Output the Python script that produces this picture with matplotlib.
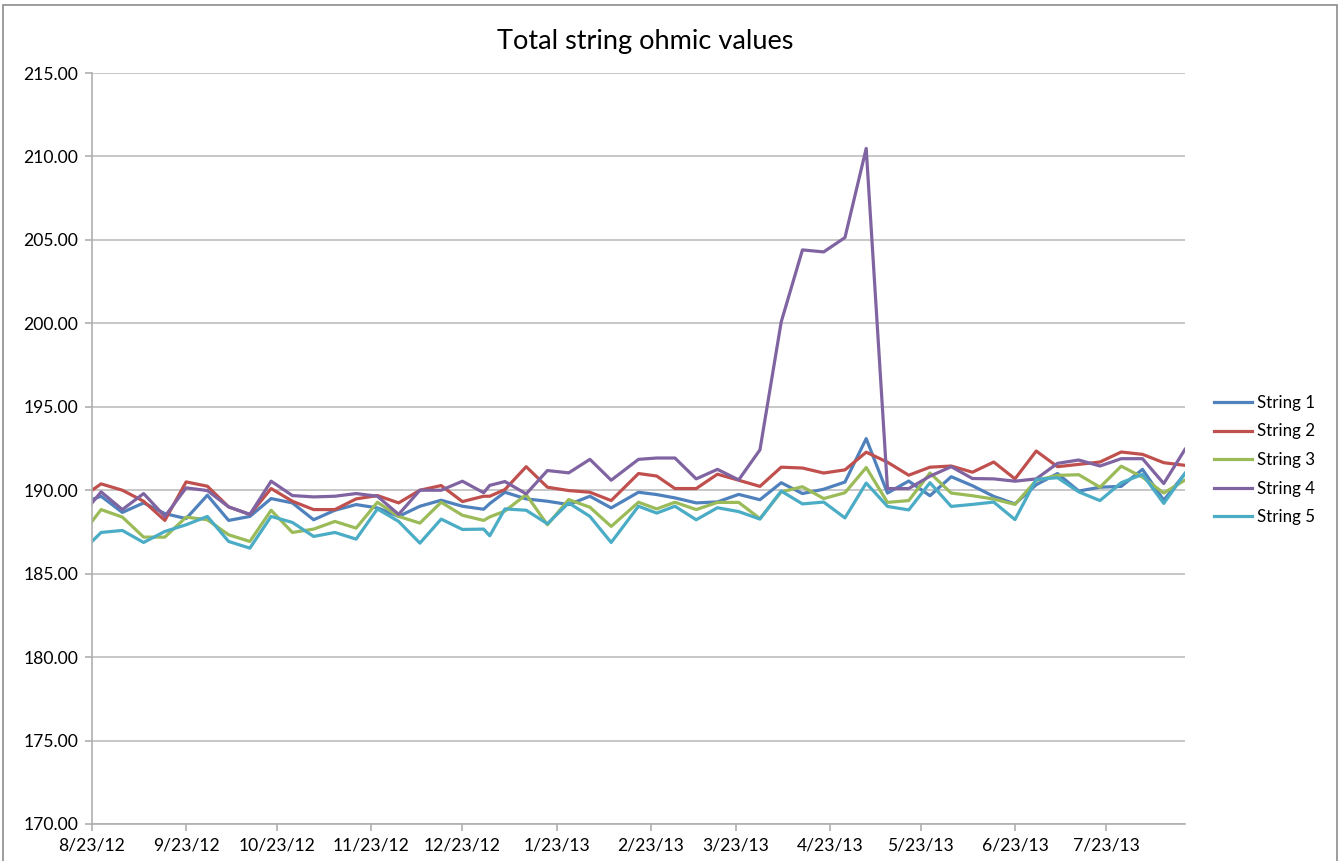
'''
Weekly total string ohmic readings for the five battery strings
'''

import datetime as dt
import numpy as np
from matplotlib import pyplot as plt
from matplotlib import dates as mdates
from matplotlib.patches import Rectangle
from matplotlib.ticker import FuncFormatter, MultipleLocator

# Reading dates
############################################################################
dates = ['8/23/12', '8/26/12', '9/2/12', '9/9/12', '9/16/12', '9/23/12', '9/30/12',
         '10/7/12', '10/14/12', '10/21/12', '10/28/12', '11/4/12', '11/11/12',
         '11/18/12', '11/25/12', '12/2/12', '12/9/12', '12/16/12', '12/23/12',
         '12/30/12', '1/1/13', '1/6/13', '1/13/13', '1/20/13', '1/27/13', '2/3/13',
         '2/10/13', '2/19/13', '2/25/13', '3/3/13', '3/10/13', '3/17/13', '3/24/13',
         '3/31/13', '4/7/13', '4/14/13', '4/21/13', '4/28/13', '5/5/13', '5/12/13',
         '5/19/13', '5/26/13', '6/2/13', '6/9/13', '6/16/13', '6/23/13', '6/30/13',
         '7/7/13', '7/14/13', '7/21/13', '7/28/13', '8/4/13', '8/11/13', '8/18/13']

# Ohmic totals per string
############################################################################
string1 = [189.44, 189.64, 188.67, 189.24, 188.60, 188.30, 189.70, 188.19, 188.43,
           189.50, 189.24, 188.23, 188.80, 189.14, 188.94, 188.43, 189.04, 189.40,
           189.04, 188.86, 189.20, 189.88, 189.48, 189.34, 189.14, 189.64, 188.94,
           189.88, 189.74, 189.54, 189.24, 189.30, 189.75, 189.43, 190.45, 189.80,
           190.06, 190.49, 193.09, 189.83, 190.55, 189.67, 190.81, 190.27, 189.63,
           189.18, 190.33, 191.00, 189.95, 190.18, 190.23, 191.25, 189.40, 191.00]
string2 = [190.00, 190.38, 190.00, 189.34, 188.19, 190.50, 190.24, 189.00, 188.55,
           190.10, 189.34, 188.84, 188.84, 189.48, 189.68, 189.24, 190.00, 190.28,
           189.32, 189.64, 189.64, 190.04, 191.41, 190.18, 189.98, 189.88, 189.38,
           191.00, 190.85, 190.10, 190.10, 190.96, 190.60, 190.23, 191.38, 191.33,
           191.03, 191.22, 192.28, 191.68, 190.90, 191.38, 191.45, 191.08, 191.69,
           190.68, 192.35, 191.41, 191.55, 191.69, 192.29, 192.15, 191.65, 191.49]
string3 = [188.13, 188.84, 188.39, 187.19, 187.19, 188.39, 188.23, 187.33, 186.93,
           188.80, 187.47, 187.67, 188.13, 187.73, 189.28, 188.43, 188.03, 189.28,
           188.50, 188.19, 188.40, 188.75, 189.74, 187.93, 189.44, 188.98, 187.83,
           189.28, 188.88, 189.28, 188.84, 189.27, 189.27, 188.30, 189.90, 190.21,
           189.50, 189.85, 191.36, 189.27, 189.38, 191.03, 189.83, 189.67, 189.47,
           189.15, 190.59, 190.89, 190.93, 190.18, 191.44, 190.78, 189.83, 190.61]
string4 = [189.24, 189.90, 188.84, 189.80, 188.43, 190.14, 189.98, 189.00, 188.55,
           190.54, 189.68, 189.60, 189.64, 189.80, 189.64, 188.55, 190.00, 190.00,
           190.54, 189.85, 190.29, 190.52, 189.78, 191.18, 191.04, 191.85, 190.60,
           191.85, 191.93, 191.93, 190.68, 191.25, 190.62, 192.42, 200.08, 204.40,
           204.28, 205.14, 210.48, 190.10, 190.10, 190.84, 191.41, 190.70, 190.68,
           190.54, 190.68, 191.61, 191.81, 191.45, 191.89, 191.89, 190.40, 192.45]
string5 = [186.93, 187.47, 187.59, 186.87, 187.53, 187.93, 188.43, 186.93, 186.53,
           188.43, 188.07, 187.23, 187.47, 187.07, 188.88, 188.13, 186.83, 188.27,
           187.65, 187.67, 187.27, 188.88, 188.80, 187.99, 189.24, 188.43, 186.87,
           189.04, 188.63, 189.04, 188.23, 188.95, 188.72, 188.27, 189.95, 189.18,
           189.29, 188.34, 190.43, 189.03, 188.82, 190.45, 189.03, 189.15, 189.29,
           188.24, 190.65, 190.75, 189.90, 189.38, 190.45, 190.95, 189.21, 191.00]

labels = ['String 1', 'String 2', 'String 3', 'String 4', 'String 5']
colors = ['#4F81BD', '#C0504D', '#9BBB59', '#8064A2', '#4BACC6']
############################################################################

plt.rcParams['font.family'] = ['Lato', 'DejaVu Sans']

xs = [dt.datetime.strptime(d, '%m/%d/%y') for d in dates]
series = [string1, string2, string3, string4, string5]

W, H = 1341, 861
fig = plt.figure(figsize=(W / 100, H / 100), dpi=100)
ax = fig.add_axes([92 / W, 1 - 824 / H, (1185 - 92) / W, (824 - 73) / H])

for ys, lab, col in zip(series, labels, colors):
    ax.plot(xs, ys, color=col, lw=2.3, label=lab, solid_joinstyle='round')

# axes limits and ticks
ax.set_ylim(170, 215)
ax.yaxis.set_major_locator(MultipleLocator(5))
ax.yaxis.set_major_formatter(FuncFormatter(lambda v, p: '%.2f' % v))
ax.set_xlim(dt.datetime(2012, 8, 23), dt.datetime(2013, 8, 18))
ax.xaxis.set_major_locator(mdates.MonthLocator(bymonthday=23))
ax.xaxis.set_major_formatter(FuncFormatter(
    lambda v, p: '{}/{}/{}'.format(mdates.num2date(v).month, mdates.num2date(v).day,
                                   mdates.num2date(v).year % 100)))

ax.grid(axis='y', color='#BEBEBE', lw=1.2)
ax.set_axisbelow(True)
for s in ['top', 'right']:
    ax.spines[s].set_visible(False)
for s in ['left', 'bottom']:
    ax.spines[s].set_color('#AFAFAF')
    ax.spines[s].set_linewidth(1.2)
ax.tick_params(axis='both', colors='#AFAFAF', length=5, width=1.2,
               labelcolor='black', labelsize=12.6, pad=5)

fig.text(645 / W, 1 - 42 / H, 'Total string ohmic values', ha='center', va='center',
         fontsize=19.5)

ax.legend(loc='center left', bbox_to_anchor=(1199 / W, 1 - 460 / H),
          bbox_transform=fig.transFigure, frameon=False, fontsize=12.2,
          handlelength=2.25, handletextpad=0.3, labelspacing=0.74)

# border round the whole chart
fig.add_artist(Rectangle((3 / W, -0.05), (1337 - 3) / W, 1.05 - 5 / H,
                         transform=fig.transFigure, fill=False,
                         edgecolor='#8C8C8C', lw=1.2))

fig.savefig('out.png', dpi=100)
